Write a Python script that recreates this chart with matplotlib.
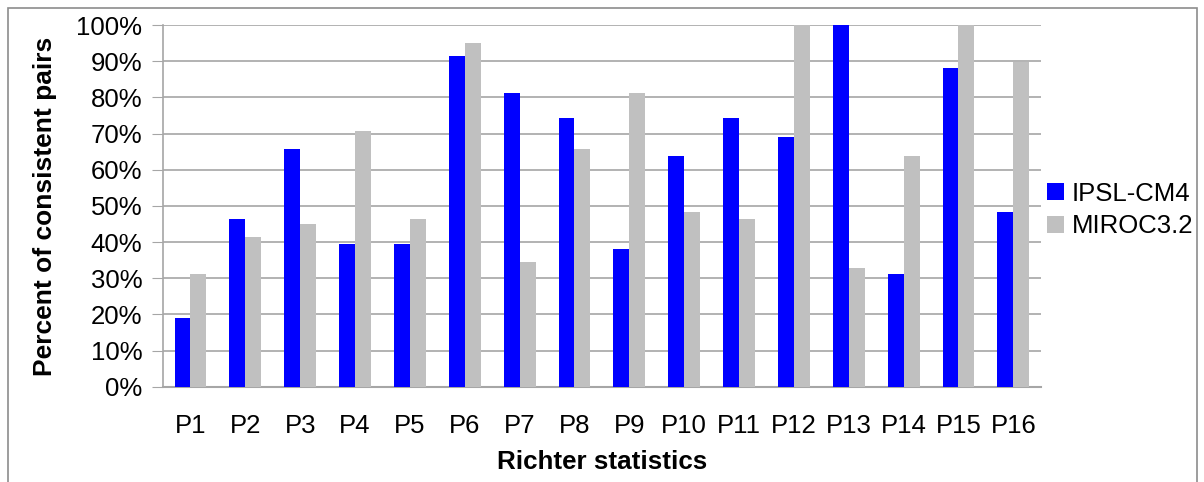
import numpy as np
import matplotlib.pyplot as plt
from matplotlib.patches import Rectangle
from matplotlib.ticker import FuncFormatter

plt.rcParams['font.family'] = ['Liberation Sans', 'DejaVu Sans']

# Percent of consistent pairs per Richter statistic
categories = ['P1', 'P2', 'P3', 'P4', 'P5', 'P6', 'P7', 'P8',
              'P9', 'P10', 'P11', 'P12', 'P13', 'P14', 'P15', 'P16']
ipsl = [19.0, 46.4, 65.7, 39.4, 39.4, 91.4, 81.2, 74.3,
        38.1, 63.8, 74.3, 69.0, 100.0, 31.1, 88.1, 48.3]
miroc = [31.1, 41.4, 45.0, 70.7, 46.4, 95.0, 34.5, 65.7,
         81.2, 48.3, 46.4, 100.0, 32.8, 63.8, 100.0, 89.7]

fig = plt.figure(figsize=(12.04, 4.82), dpi=100)
ax = fig.add_axes([0.1354, 0.1977, 0.7290, 0.7503])

x = np.arange(len(categories))
w = 0.29
ax.bar(x - w / 2, ipsl, width=w, color='#0000ff', label='IPSL-CM4', zorder=3)
ax.bar(x + w / 2, miroc, width=w, color='#c0c0c0', label='MIROC3.2', zorder=3)

ax.set_xlim(-0.5, len(categories) - 0.5)
ax.set_ylim(0, 100)
ax.set_yticks(np.arange(0, 101, 10))
ax.yaxis.set_major_formatter(FuncFormatter(lambda v, p: f'{v:.0f}%'))
ax.set_xticks(x)
ax.set_xticklabels(categories)

ax.grid(axis='y', color='#a6a6a6', linewidth=1.2, zorder=0)
for side in ['top', 'right']:
    ax.spines[side].set_visible(False)
ax.spines['left'].set_color('#a6a6a6')
ax.spines['bottom'].set_color('#a6a6a6')
ax.spines['left'].set_linewidth(1.2)
ax.spines['bottom'].set_linewidth(1.5)
ax.tick_params(axis='y', length=8, color='#a6a6a6', labelsize=18.5, pad=7)
ax.tick_params(axis='x', length=0, labelsize=18.5, pad=20)

ax.set_ylabel('Percent of consistent pairs', fontsize=19, fontweight='bold', labelpad=14)
ax.set_xlabel('Richter statistics', fontsize=18.7, fontweight='bold', labelpad=8)

ax.legend(loc='center left', bbox_to_anchor=(1047 / 1204, (482 - 210) / 482),
          bbox_transform=fig.transFigure, frameon=False,
          fontsize=18.5, handlelength=0.66, handleheight=0.66,
          handletextpad=0.3, labelspacing=0.35, borderaxespad=0, borderpad=0)

# outer chart frame
fig.patches.append(Rectangle((8.3 / 1204, -0.02), (1197 - 8.3) / 1204, (482 - 8 + 10) / 482,
                             transform=fig.transFigure, fill=False,
                             edgecolor='#8c8c8c', linewidth=1.2))

fig.savefig('out.png', dpi=100)
